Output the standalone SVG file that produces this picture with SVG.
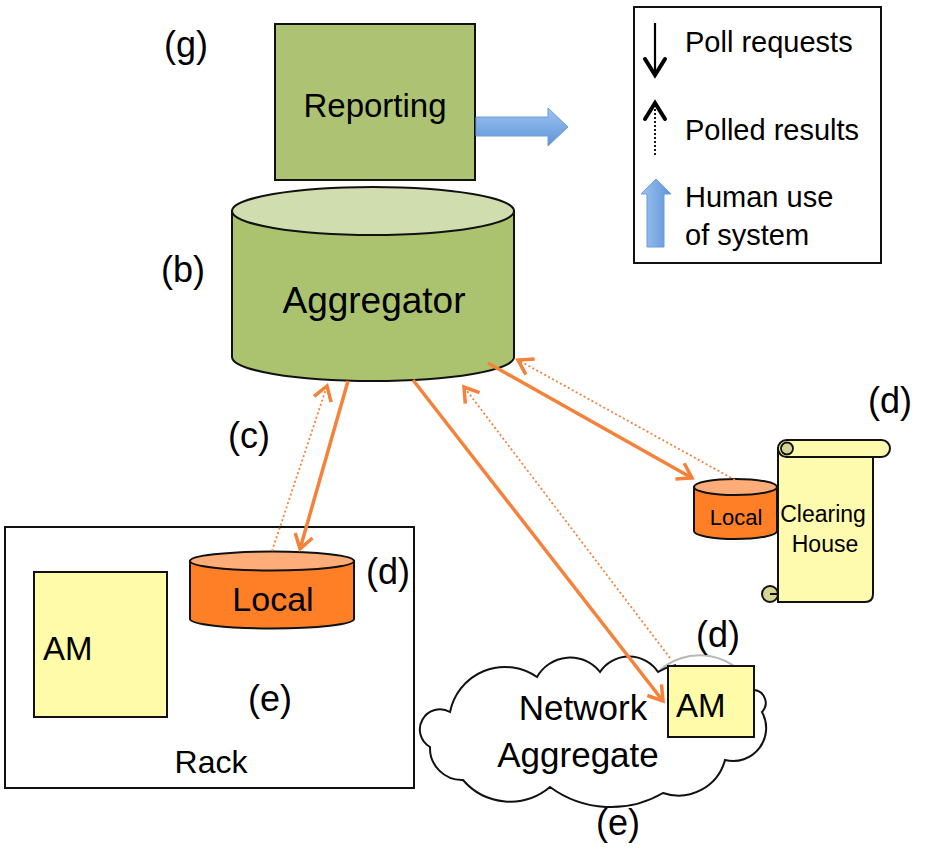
<svg xmlns="http://www.w3.org/2000/svg" width="932" height="852" viewBox="0 0 932 852">
<style>
  text { font-family: "Liberation Sans", Arial, sans-serif; fill: #000; }
  .lbl { font-size: 36px; text-anchor: middle; }
  .ctr { text-anchor: middle; }
  .ln { stroke: #111; stroke-width: 2; }
  .yel { fill: #FFFBA8; stroke: #111; stroke-width: 2; }
  .org { fill: #FF7F27; stroke: #111; stroke-width: 2; }
  .orgtop { fill: #FFAD78; stroke: #111; stroke-width: 2; }
  .solid { fill: none; stroke: #F4823A; stroke-width: 3.5; }
  .dot { fill: none; stroke: #F4823A; stroke-width: 1.8; stroke-dasharray: 2 2.5; }
  .head { fill: none; stroke: #000; stroke-width: 4; stroke-linecap: round; stroke-linejoin: miter; }
</style>
<defs>
  <marker id="chev" markerUnits="userSpaceOnUse" viewBox="-17 -12 20 24" markerWidth="20" markerHeight="24" refX="0" refY="0" orient="auto" overflow="visible">
    <path d="M-14,-9 L0,0 L-14,9" fill="none" stroke="#F4823A" stroke-width="3.5" stroke-dasharray="none"/>
  </marker>
  <linearGradient id="bluH" x1="0" y1="0" x2="0" y2="1">
    <stop offset="0" stop-color="#9DC3F0"/>
    <stop offset="1" stop-color="#5E94D8"/>
  </linearGradient>
  <linearGradient id="bluV" x1="0" y1="0" x2="1" y2="0">
    <stop offset="0" stop-color="#9DC3F0"/>
    <stop offset="1" stop-color="#5E94D8"/>
  </linearGradient>
</defs>

<g id="rack">
  <rect x="5" y="527" width="409" height="261" fill="#fff" class="ln"/>
  <text x="211" y="773" class="ctr" font-size="32">Rack</text>
</g>
<g id="rack-am">
  <rect x="34" y="572" width="133" height="145" class="yel"/>
  <text x="43" y="660" font-size="33">AM</text>
</g>
<g id="rack-local">
  <path d="M190,561 V619 A82,9.5 0 0 0 354,619 V561 Z" class="org"/>
  <ellipse cx="272" cy="561" rx="82" ry="9.5" class="orgtop"/>
  <text x="273" y="611" class="ctr" font-size="34">Local</text>
</g>

<g id="reporting">
  <rect x="275" y="24" width="200" height="156" fill="#ADC373" class="ln"/>
  <text x="375" y="117" class="ctr" font-size="33">Reporting</text>
</g>
<g id="human-arrow">
  <path d="M476,117 H548 V108 L568,127 L548,146 V136 H476 Z" fill="url(#bluH)" stroke="#6E9CD6" stroke-width="1"/>
</g>

<g id="aggregator">
  <path d="M232,211 V357 A141,24 0 0 0 514,357 V211 Z" fill="#ABC36F" class="ln"/>
  <ellipse cx="373" cy="211" rx="141" ry="24" fill="#D0DDAE" class="ln"/>
  <text x="374" y="313" class="ctr" font-size="37">Aggregator</text>
</g>

<g id="network-aggregate">
  <path d="M430,747 A20,20 0 0 1 450,712 A56,56 0 0 1 537,677 A38,38 0 0 1 600,672 A35,35 0 0 1 658,672 A60,60 0 0 1 754,690 A13,13 0 0 1 762,712 A33,33 0 0 1 725,760 A48,48 0 0 1 663,793 A103,103 0 0 1 550,787 A62,62 0 0 1 463,780 A32,32 0 0 1 430,747 Z" fill="#fff" stroke="none"/>
  <path d="M658,672 A60,60 0 0 1 754,690" fill="none" stroke="#b8b8b8" stroke-width="2"/>
  <path d="M754,690 A13,13 0 0 1 762,712 A33,33 0 0 1 725,760 A48,48 0 0 1 663,793 A103,103 0 0 1 550,787 A62,62 0 0 1 463,780 A32,32 0 0 1 430,747 A20,20 0 0 1 450,712 A56,56 0 0 1 537,677 A38,38 0 0 1 600,672 A35,35 0 0 1 658,672 A60,60 0 0 1 676,665" fill="none" class="ln"/>
  <text x="583" y="720" class="ctr" font-size="35">Network</text>
  <text x="578" y="767" class="ctr" font-size="35">Aggregate</text>
</g>
<g id="net-am">
  <rect x="668" y="666" width="86" height="71" class="yel"/>
  <text x="676" y="717" font-size="33">AM</text>
</g>

<g id="ch-local">
  <path d="M694,487 V531 A41.5,8 0 0 0 777,531 V487 Z" class="org"/>
  <ellipse cx="735.5" cy="487" rx="41.5" ry="8" class="orgtop"/>
  <text x="736" y="525" class="ctr" font-size="22">Local</text>
</g>

<g id="clearing-house">
  <path d="M778,448 V602 H865 Q873,602 873,594 V457 Z" fill="#FFFBAE" class="ln"/>
  <rect x="778" y="440" width="112" height="17" rx="8.5" fill="#FFFBAE" class="ln"/>
  <circle cx="787" cy="448.5" r="6" fill="#D5D495" stroke="#111" stroke-width="1.8"/>
  <circle cx="770" cy="594" r="8" fill="#D5D495" stroke="#111" stroke-width="2"/>
  <path d="M770,594 H777" class="ln" fill="none"/>
  <text x="823" y="522" class="ctr" font-size="23">Clearing</text>
  <text x="825" y="552" class="ctr" font-size="23">House</text>
</g>

<g id="legend">
  <rect x="634" y="7" width="247" height="256" fill="#fff" class="ln"/>
  <line x1="655" y1="23" x2="655" y2="74" stroke="#000" stroke-width="2.2"/>
  <path d="M645,59 L655,75 L665,59" class="head"/>
  <line x1="655" y1="155" x2="655" y2="104" stroke="#000" stroke-width="1.8" stroke-dasharray="2 2"/>
  <path d="M645,119 L655,103 L665,119" class="head"/>
  <path d="M647,247 V194 H641 L656,179 L671,194 H664 V247 Z" fill="url(#bluV)" stroke="#6E9CD6" stroke-width="1"/>
  <text x="685" y="52" font-size="29">Poll requests</text>
  <text x="685" y="140" font-size="29">Polled results</text>
  <text x="685" y="207" font-size="29">Human use</text>
  <text x="685" y="245" font-size="29">of system</text>
</g>

<g id="labels">
  <text x="186" y="57" class="lbl">(g)</text>
  <text x="183" y="282" class="lbl">(b)</text>
  <text x="249" y="448" class="lbl">(c)</text>
  <text x="388" y="584" class="lbl">(d)</text>
  <text x="890" y="413" class="lbl">(d)</text>
  <text x="718" y="647" class="lbl">(d)</text>
  <text x="270" y="711" class="lbl">(e)</text>
  <text x="618" y="835" class="lbl">(e)</text>
</g>

<g id="connectors">
  <line x1="348" y1="381" x2="300" y2="549" class="solid" marker-end="url(#chev)"/>
  <line x1="272" y1="551" x2="327" y2="386" class="dot" marker-end="url(#chev)"/>
  <line x1="413" y1="380" x2="663" y2="701" class="solid" marker-end="url(#chev)"/>
  <line x1="670" y1="658" x2="464" y2="387" class="dot" marker-end="url(#chev)"/>
  <line x1="488" y1="363" x2="692" y2="478" class="solid" marker-end="url(#chev)"/>
  <line x1="735" y1="480" x2="518" y2="360" class="dot" marker-end="url(#chev)"/>
</g>
</svg>
